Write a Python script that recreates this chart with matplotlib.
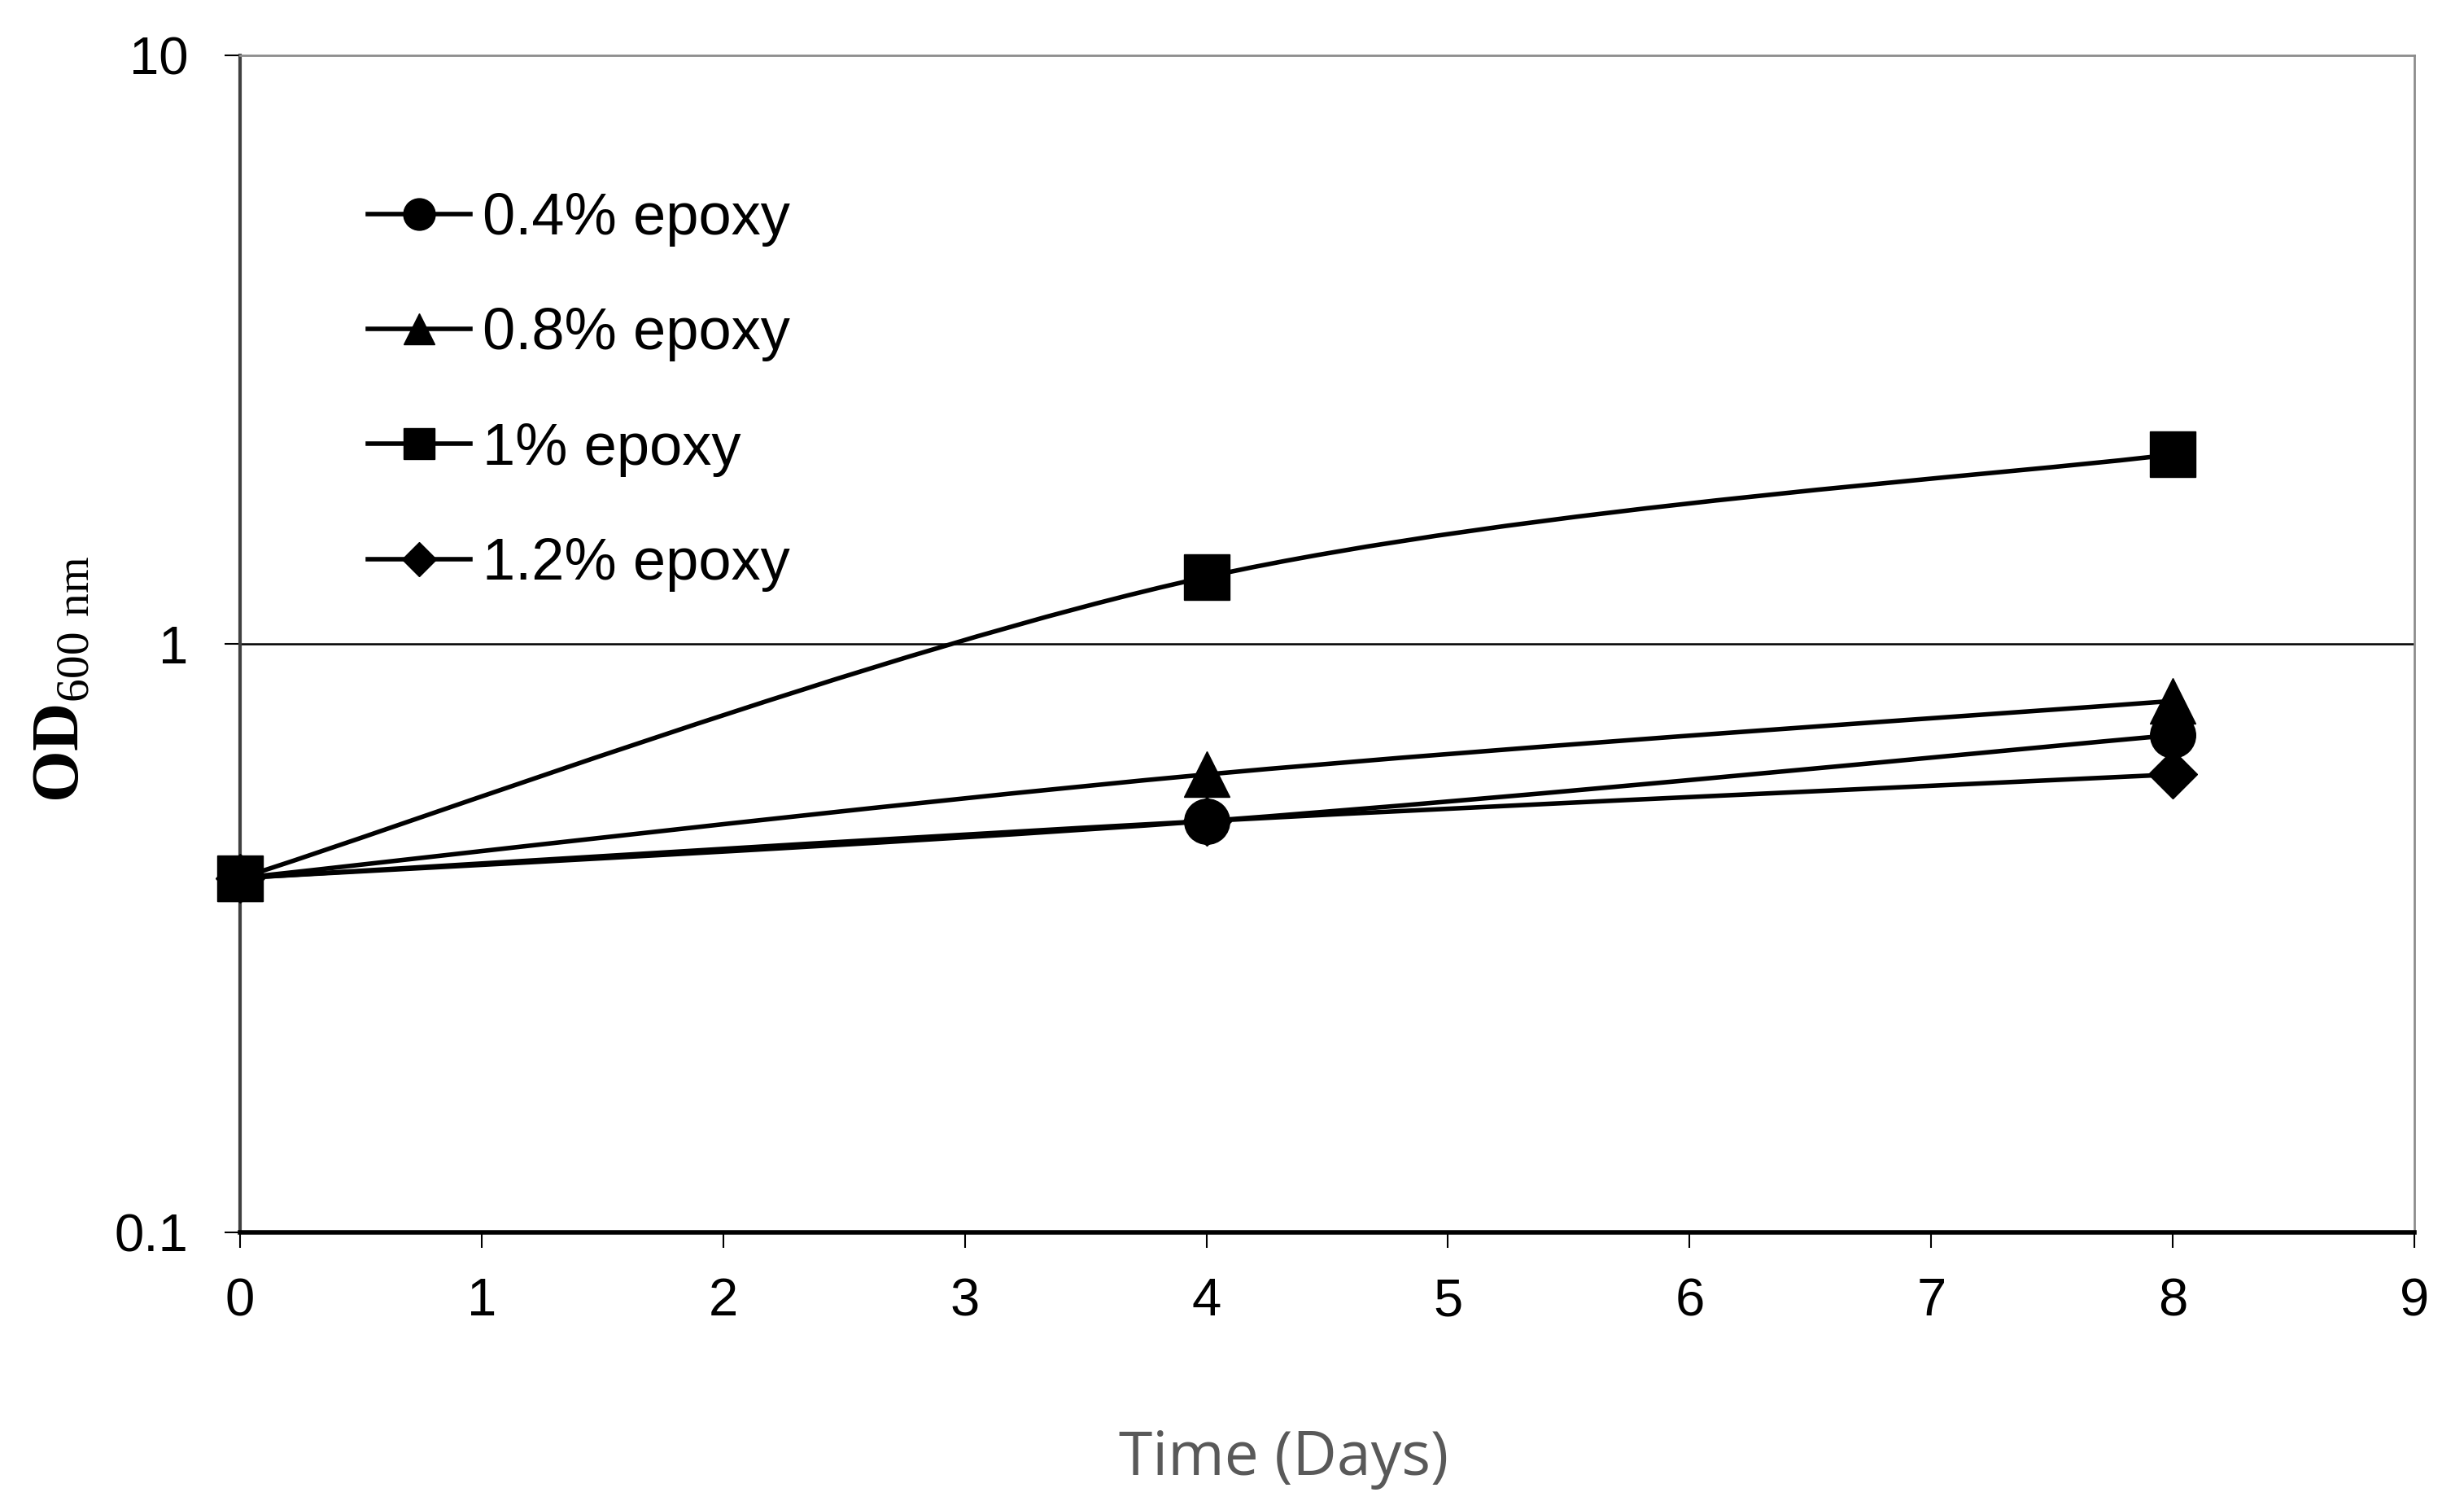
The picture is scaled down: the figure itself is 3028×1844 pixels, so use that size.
import numpy as np
import matplotlib
matplotlib.use("Agg")
import matplotlib.pyplot as plt
from matplotlib.path import Path
from matplotlib.patches import PathPatch
from matplotlib.ticker import FixedLocator, FixedFormatter, NullLocator
from matplotlib.lines import Line2D

plt.rcParams['mathtext.fontset'] = 'custom'
plt.rcParams['mathtext.rm'] = 'Liberation Serif'
plt.rcParams['mathtext.bf'] = 'Liberation Serif:bold'

# ---- data ----
days = [0, 4, 8]
od_04 = [0.4, 0.5, 0.7]
od_08 = [0.4, 0.6, 0.8]
od_10 = [0.4, 1.3, 2.1]
od_12 = [0.4, 0.5, 0.6]
labels = ["0.4% epoxy", "0.8% epoxy", "1% epoxy", "1.2% epoxy"]
x_ticks = [0, 1, 2, 3, 4, 5, 6, 7, 8, 9]
y_ticks = [0.1, 1, 10]
y_ticklabels = ["0.1", "1", "10"]

series = [od_04, od_08, od_10, od_12]
markers = ['o', '^', 's', 'D']
msizes = [40, 40, 40, 31]
leg_msizes = [28, 28, 28, 21]

fig = plt.figure(figsize=(30.28, 18.44), dpi=100)
ax = fig.add_axes([0.0974, 0.179, 0.8825, 0.784])
ax.set_yscale('log')
ax.set_xlim(0, 9)
ax.set_ylim(0.1, 10)


def smooth_path(xs, ys):
    # Excel-style smoothed line: cubic Bezier in (x, log10 y) space
    lx = np.asarray(xs, float)
    ly = np.log10(np.asarray(ys, float))
    n = len(lx)
    verts = [(lx[0], ly[0])]
    codes = [Path.MOVETO]
    for i in range(n - 1):
        p0 = i - 1 if i > 0 else i
        p3 = i + 2 if i + 2 < n else i + 1
        c1 = (lx[i] + (lx[i + 1] - lx[p0]) / 6, ly[i] + (ly[i + 1] - ly[p0]) / 6)
        c2 = (lx[i + 1] - (lx[p3] - lx[i]) / 6, ly[i + 1] - (ly[p3] - ly[i]) / 6)
        verts += [c1, c2, (lx[i + 1], ly[i + 1])]
        codes += [Path.CURVE4] * 3
    verts = [(vx, 10 ** vy) for vx, vy in verts]
    return Path(verts, codes)


handles = []
for vals, mk, ms, lms, lab in zip(series, markers, msizes, leg_msizes, labels):
    patch = PathPatch(smooth_path(days, vals), fill=False, edgecolor='black',
                      lw=4, zorder=3)
    ax.add_patch(patch)
    ax.plot(days, vals, linestyle='none', marker=mk, markersize=ms,
            color='black', zorder=4, clip_on=False)
    handles.append(Line2D([], [], color='black', lw=4, marker=mk,
                          markersize=lms, label=lab))

ax.axhline(1, color='black', lw=1.8, zorder=2)

ax.xaxis.set_major_locator(FixedLocator(x_ticks))
ax.set_xticklabels([str(t) for t in x_ticks])
ax.yaxis.set_major_locator(FixedLocator(y_ticks))
ax.yaxis.set_major_formatter(FixedFormatter(y_ticklabels))
ax.yaxis.set_minor_locator(NullLocator())

ax.tick_params(axis='both', which='major', direction='out', length=14,
               width=1.5, color='black', labelsize=47, labelcolor='black')
ax.tick_params(axis='x', pad=26)
ax.tick_params(axis='y', pad=32)
for lab in ax.get_xticklabels() + ax.get_yticklabels():
    lab.set_fontfamily('Liberation Sans')

ax.spines['left'].set_color('#404040')
ax.spines['left'].set_linewidth(3)
ax.spines['bottom'].set_color('black')
ax.spines['bottom'].set_linewidth(4)
ax.spines['top'].set_color('#8c8c8c')
ax.spines['top'].set_linewidth(2)
ax.spines['right'].set_color('#8c8c8c')
ax.spines['right'].set_linewidth(2)

ax.set_ylabel(r'$\mathbf{OD}_{\mathrm{600\ nm}}$', fontsize=59, labelpad=20)
ax.yaxis.label.set_y(0.47)
fig.text(0.521, 0.028, "Time (Days)", fontsize=54, color='#595959',
         family='Open Sans', ha='center', va='center')

leg = ax.legend(handles=handles, loc='upper left',
                bbox_to_anchor=(0.0588, 0.884), frameon=False,
                prop={'family': 'Liberation Sans', 'size': 52},
                handlelength=1.75, handletextpad=0.2, labelspacing=1.03,
                borderpad=0, borderaxespad=0)

fig.savefig('out.png', dpi=100, facecolor='white')
